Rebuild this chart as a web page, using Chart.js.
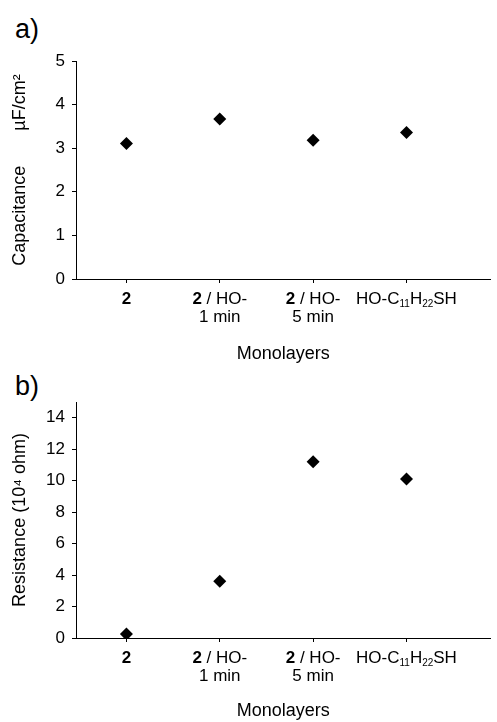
<!DOCTYPE html>
<html>
<head>
<meta charset="utf-8">
<script src="https://cdn.jsdelivr.net/npm/chart.js@4.4.1/dist/chart.umd.min.js"></script>
<style>
  body { margin: 0; background: #fff; font-family: "Liberation Sans", Arial, sans-serif; }
  #wrap { position: relative; width: 497px; height: 722px; overflow: hidden; }
  .panel { position: absolute; left: 0; }
  .tag { position: absolute; left: 15px; font-size: 27px; line-height: 27px; color: #000; }
</style>
</head>
<body>
<div id="wrap">
  <div class="tag" style="top: 16px;">a)</div>
  <div class="tag" style="top: 373px;">b)</div>
  <canvas id="chart-a" class="panel" style="top:0px" width="497" height="370"></canvas>
  <canvas id="chart-b" class="panel" style="top:370px" width="497" height="352"></canvas>
</div>
<script>
const categories = ["2", "2 / HO-\n1 min", "2 / HO-\n5 min", "HO-C11H22SH"];
const capacitance = [3.11, 3.67, 3.18, 3.36];
const resistance = [0.25, 3.6, 11.2, 10.1];
const capTicks = [0, 1, 2, 3, 4, 5];
const resTicks = [0, 2, 4, 6, 8, 10, 12, 14];

const FONT = '"Liberation Sans", Arial, sans-serif';

// draws the category labels: leading "2" in bold, digits after C/H as subscripts
const richLabels = {
  id: "richLabels",
  afterDraw(chart) {
    const ctx = chart.ctx;
    const sx = chart.scales.x;
    ctx.save();
    ctx.fillStyle = "#000";
    ctx.textBaseline = "middle";
    ctx.textAlign = "left";
    categories.forEach((lab, i) => {
      const cx = sx.getPixelForValue(i + 1);
      lab.split("\n").forEach((line, li) => {
        const y = sx.top + 20 + li * 18;
        const segs = [];
        let rest = line;
        if (/^2( |$)/.test(rest)) {
          segs.push({ t: "2", f: "bold 17px " + FONT, dy: 0 });
          rest = rest.slice(1);
        }
        rest.split(/(\d+)/).forEach((p, k, arr) => {
          if (!p) return;
          const sub = /^\d+$/.test(p) && k > 0 && /[CH]$/.test(arr[k - 1]);
          segs.push({ t: p, f: sub ? "10px " + FONT : "17px " + FONT, dy: sub ? 5 : 0 });
        });
        let w = 0;
        segs.forEach(s => { ctx.font = s.f; s.w = ctx.measureText(s.t).width; w += s.w; });
        let x = cx - w / 2;
        segs.forEach(s => { ctx.font = s.f; ctx.fillText(s.t, x, y + s.dy); x += s.w; });
      });
    });
    ctx.restore();
  }
};

function makeChart(id, values, yTicks, yMax, yTitle, padTop, xHeight, titlePad) {
  return new Chart(document.getElementById(id).getContext("2d"), {
    type: "scatter",
    data: {
      datasets: [{
        data: values.map((v, i) => ({ x: i + 1, y: v })),
        pointStyle: "rectRot",
        pointRadius: 6.5,
        backgroundColor: "#000",
        borderColor: "#000",
        borderWidth: 0
      }]
    },
    options: {
      responsive: false,
      animation: false,
      events: [],
      layout: { padding: { top: padTop, left: 0, right: 0, bottom: 0 } },
      plugins: { legend: { display: false }, tooltip: { enabled: false } },
      scales: {
        x: {
          type: "linear",
          min: 0.46,
          max: 4.9,
          afterBuildTicks: s => { s.ticks = categories.map((c, i) => ({ value: i + 1 })); },
          afterFit: s => { s.height = xHeight; },
          ticks: { display: false },
          grid: { drawOnChartArea: false, drawTicks: true, tickLength: 4, color: "#000" },
          border: { display: true, color: "#000", width: 1 },
          title: {
            display: true, text: "Monolayers", color: "#000",
            font: { family: FONT, size: 18 }, padding: { top: 0, bottom: titlePad }
          }
        },
        y: {
          min: 0,
          max: yMax,
          afterBuildTicks: s => { s.ticks = yTicks.map(v => ({ value: v })); },
          afterFit: s => { s.width = 76; },
          ticks: { color: "#000", padding: 7, font: { family: FONT, size: 17 } },
          grid: { drawOnChartArea: false, drawTicks: true, tickLength: 4, color: "#000" },
          border: { display: true, color: "#000", width: 1 },
          title: {
            display: true, text: yTitle, color: "#000",
            font: { family: FONT, size: 18 }, padding: { top: 9, bottom: 0 }
          }
        }
      }
    },
    plugins: [richLabels]
  });
}

makeChart("chart-a", capacitance, capTicks, 5, "Capacitance       \u00B5F/cm\u00B2", 61, 91, 5);
makeChart("chart-b", resistance, resTicks, 15, "Resistance (10\u2074 ohm)", 32, 84, 0);
</script>
</body>
</html>
